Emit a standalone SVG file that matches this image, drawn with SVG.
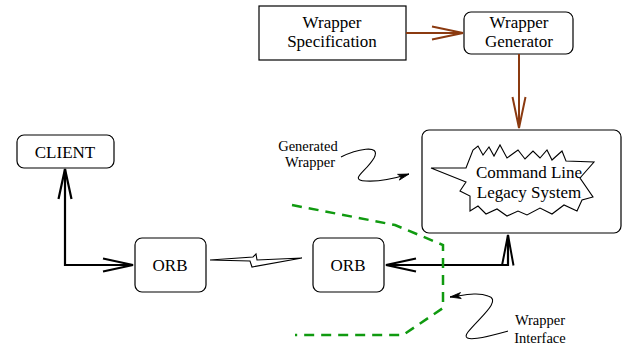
<svg xmlns="http://www.w3.org/2000/svg" width="623" height="346" viewBox="0 0 623 346">
<style>
.box{fill:#fff;stroke:#000;stroke-width:1.2}
.t{font-family:"Liberation Serif","Times New Roman",serif;font-size:17px;fill:#000;text-anchor:middle}
.s{font-family:"Liberation Serif","Times New Roman",serif;font-size:14.5px;fill:#000;text-anchor:middle}
.brown{fill:none;stroke:#8b3a10;stroke-width:2}
.blk{fill:none;stroke:#000;stroke-width:2.2}
.thin{fill:none;stroke:#000;stroke-width:1.1}
.dash{fill:none;stroke:#109a10;stroke-width:2.5;stroke-dasharray:10,7}
</style>
<defs>
<marker id="ab" markerUnits="userSpaceOnUse" markerWidth="40" markerHeight="20" viewBox="-36 -10 40 20" refX="0" refY="0" orient="auto" overflow="visible">
<path d="M-31,-6.5 L0,0 L-31,6.5" fill="none" stroke="#8b3a10" stroke-width="2"/>
</marker>
<marker id="ak" markerUnits="userSpaceOnUse" markerWidth="40" markerHeight="20" viewBox="-36 -10 40 20" refX="0" refY="0" orient="auto-start-reverse" overflow="visible">
<path d="M-30,-6.5 L0,0 L-30,6.5" fill="none" stroke="#000" stroke-width="2.2"/>
</marker>
<marker id="as" markerUnits="userSpaceOnUse" markerWidth="20" markerHeight="10" viewBox="-14 -5 16 10" refX="0" refY="0" orient="auto" overflow="visible">
<path d="M-11,-3 L0,0 L-11,3 L-8,0 Z" fill="#000" stroke="#000" stroke-width="0.8"/>
</marker>
</defs>

<g id="spec">
<rect class="box" x="259" y="6" width="147" height="54"/>
<text class="t" x="332" y="28">Wrapper</text>
<text class="t" x="332" y="47">Specification</text>
</g>

<g id="generator">
<rect class="box" x="464" y="12" width="109" height="42" rx="7"/>
<text class="t" x="519" y="28">Wrapper</text>
<text class="t" x="519" y="47">Generator</text>
</g>

<g id="legacy">
<rect class="box" x="422" y="130" width="199" height="103" rx="7"/>
<polygon class="thin" fill="#fff" points="431,168 466,168 473,150 478,146 483,155 489,147 494,156 500,145 507,158 518,150 525,159 533,151 540,158 547,150 552,160 562,151 566,161 594,162 580,178 593,197 582,200 577,211 564,205 552,214 540,208 527,215 518,211 507,216 497,209 486,214 478,206 470,211 470,196 460,191 466,182"/>
<text class="t" x="529" y="178">Command Line</text>
<text class="t" x="529" y="198">Legacy System</text>
</g>

<g id="client">
<rect class="box" x="17" y="135" width="97" height="33" rx="7"/>
<text class="t" x="65" y="158">CLIENT</text>
</g>

<g id="orb1">
<rect class="box" x="135" y="238" width="71" height="54" rx="7"/>
<text class="t" x="170" y="271">ORB</text>
</g>

<g id="orb2">
<rect class="box" x="313" y="238" width="71" height="54" rx="7"/>
<text class="t" x="348" y="271">ORB</text>
</g>

<g id="label-generated">
<text class="s" x="308" y="151">Generated</text>
<text class="s" x="310" y="167">Wrapper</text>
</g>

<g id="label-interface">
<text class="s" x="540" y="325">Wrapper</text>
<text class="s" x="540" y="343">Interface</text>
</g>

<g id="connectors">
<path class="brown" d="M406,33 L463,33" marker-end="url(#ab)"/>
<path class="brown" d="M519,54 L519,128" marker-end="url(#ab)"/>
<path class="blk" d="M65,169 L65,265 L133,265" marker-start="url(#ak)" marker-end="url(#ak)"/>
<path class="blk" d="M386,265 L508,265 L508,235" marker-start="url(#ak)"/>
<path d="M502,265.5 L508,235 L513.5,265.5" fill="none" stroke="#000" stroke-width="2"/>
<polygon class="thin" fill="#fff" points="210,260 253,257 256,254 257,260 302,258 252,267 250,261"/>
<path class="thin" d="M341,157 C355,150 382,143 374,158 C366,172 348,180 366,181 C382,182 396,178 409,174" marker-end="url(#as)"/>
<path class="thin" d="M508,331 C490,336 458,345 468,332 C478,319 503,300 488,296 C478,292 465,295 450,297" marker-end="url(#as)"/>
<polyline class="dash" points="292,205 395,225 443,245 443,308 403,335 295,335"/>
</g>
</svg>
